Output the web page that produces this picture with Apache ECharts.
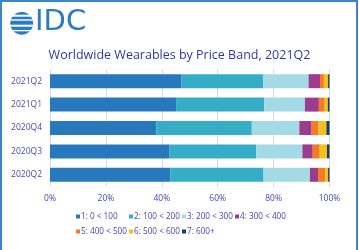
<!DOCTYPE html>
<html>
<head>
<meta charset="utf-8">
<script src="https://cdn.jsdelivr.net/npm/echarts@6/dist/echarts.min.js"></script>
<style>
  html, body { margin: 0; padding: 0; background: #fff; }
  #chart { width: 359px; height: 250px; }
</style>
</head>
<body>
<div id="chart"></div>
<script>
// 季度
var quarters = ['2021Q2', '2021Q1', '2020Q4', '2020Q3', '2020Q2']
// 价格段
var bands = ['1: 0 < 100', '2: 100 < 200', '3: 200 < 300', '4: 300 < 400', '5: 400 < 500', '6: 500 < 600', '7: 600+']
// 各价格段份额 (%)
var band1 = [47.1, 45.1, 38.1, 42.8, 43.0]
var band2 = [29.2, 31.6, 34.1, 31.0, 33.4]
var band3 = [16.2, 14.5, 17.0, 16.5, 16.6]
var band4 = [4.1, 5.0, 4.4, 3.7, 2.9]
var band5 = [1.4, 2.1, 2.5, 2.5, 2.6]
var band6 = [1.5, 1.1, 2.8, 2.6, 1.0]
var band7 = [0.5, 0.6, 1.1, 0.9, 0.5]
var xTicks = ['0%', '20%', '40%', '60%', '80%', '100%']

var colors = ['#2878bd', '#35adc7', '#a3dae5', '#9b3c8f', '#f47b22', '#f6c01c', '#183c5e']
var textColor = '#4646b8'
var allBands = [band1, band2, band3, band4, band5, band6, band7]

var chart = echarts.init(document.getElementById('chart'))

var series = bands.map(function (name, i) {
  return {
    name: name,
    type: 'bar',
    stack: 'total',
    barWidth: 14,
    data: allBands[i],
    itemStyle: { color: colors[i] }
  }
})

// logo 条纹 (白色间隙)
var logoGaps = [[14.7, 2], [19.3, 1.4], [24.7, 2], [30, 1.3]]
var logo = [
  { type: 'circle', shape: { cx: 21.7, cy: 23.3, r: 11.4 }, style: { fill: '#2a7bc3' } }
].concat(logoGaps.map(function (g) {
  return { type: 'rect', shape: { x: 9, y: g[0], width: 26, height: g[1] }, style: { fill: '#fff' } }
}))

var option = {
  color: colors,
  textStyle: { fontFamily: 'Open Sans' },
  title: {
    text: 'Worldwide Wearables by Price Band, 2021Q2',
    left: 'center',
    top: 44,
    textStyle: { fontSize: 12.5, fontWeight: 'normal', color: '#3333b0', fontFamily: 'Open Sans' }
  },
  legend: {
    data: bands,
    left: 71,
    top: 204,
    width: 250,
    itemWidth: 4,
    itemHeight: 4,
    itemGap: 0,
    icon: 'rect',
    textStyle: { fontSize: 8.2, color: textColor, width: 48, lineHeight: 15, padding: [0, 0, 0, -4] }
  },
  grid: { left: 50, right: 29.5, top: 69.5, bottom: 63.5, containLabel: false },
  xAxis: {
    type: 'value',
    min: 0,
    max: 100,
    interval: 20,
    axisLine: { show: false },
    axisTick: { show: false },
    splitLine: { show: true, lineStyle: { color: '#d6d6f6', width: 1 } },
    axisLabel: {
      color: textColor,
      fontSize: 8.5,
      margin: 8,
      formatter: function (v) { return xTicks[v / 20] }
    }
  },
  yAxis: {
    type: 'category',
    data: quarters,
    inverse: true,
    axisLine: { show: false },
    axisTick: { show: false },
    axisLabel: { color: textColor, fontSize: 8.5, margin: 8 }
  },
  graphic: [
    // 外框
    { type: 'rect', shape: { x: 1, y: 1, width: 356, height: 270 }, style: { fill: 'none', stroke: '#3a86c8', lineWidth: 2 }, silent: true },
    { type: 'text', left: 35, top: 8, style: { text: 'IDC', fill: '#2a7bc3', fontSize: 29, fontFamily: 'DejaVu Sans', fontWeight: 'normal' } }
  ].concat(logo),
  series: series
}

chart.setOption(option)
</script>
</body>
</html>
